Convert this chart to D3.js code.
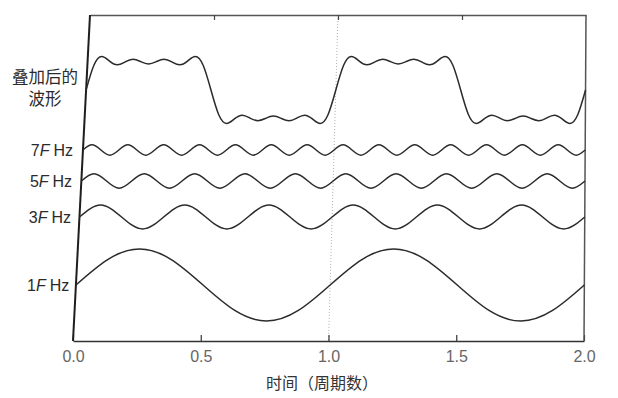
<!DOCTYPE html>
<html>
<head>
<meta charset="utf-8">
<script src="https://cdn.jsdelivr.net/npm/d3@7"></script>
<style>
  body { margin: 0; background: #fff; }
  svg { display: block; }
  .tick-label { font-family: "Liberation Sans", Arial, sans-serif; }
</style>
</head>
<body>
<figure id="chart" style="margin:0"></figure>
<script>
// values (signal units, 1F peak = 1)
const xTicks = [0, 0.5, 1, 1.5, 2];
const xTickLabels = ["0.0", "0.5", "1.0", "1.5", "2.0"];
const harmonics = ["1", "3", "5", "7"];
const xTitle = "时间（周期数）";
const sumLabel = ["叠加后的", "波形"];

// 1F, sampled every 1/8 period
const wave1F = [0, 0.707, 1, 0.707, 0, -0.707, -1, -0.707,
  0, 0.707, 1, 0.707, 0, -0.707, -1, -0.707, 0];
// 3F, sampled at peaks/zeros (every 1/12)
const wave3F = [0, 0.333, 0, -0.333, 0, 0.333, 0, -0.333, 0, 0.333, 0, -0.333,
  0, 0.333, 0, -0.333, 0, 0.333, 0, -0.333, 0, 0.333, 0, -0.333, 0];
// 5F, every 1/20
const wave5F = [0, 0.2, 0, -0.2, 0, 0.2, 0, -0.2, 0, 0.2, 0, -0.2, 0, 0.2, 0, -0.2,
  0, 0.2, 0, -0.2, 0, 0.2, 0, -0.2, 0, 0.2, 0, -0.2, 0, 0.2, 0, -0.2,
  0, 0.2, 0, -0.2, 0, 0.2, 0, -0.2, 0];
// 7F, every 1/28
const wave7F = [0, 0.143, 0, -0.143, 0, 0.143, 0, -0.143, 0, 0.143, 0, -0.143, 0, 0.143,
  0, -0.143, 0, 0.143, 0, -0.143, 0, 0.143, 0, -0.143, 0, 0.143, 0, -0.143,
  0, 0.143, 0, -0.143, 0, 0.143, 0, -0.143, 0, 0.143, 0, -0.143, 0, 0.143,
  0, -0.143, 0, 0.143, 0, -0.143, 0, 0.143, 0, -0.143, 0, 0.143, 0, -0.143, 0];
// superposed wave, every 1/32
const waveSum = [0, 0.687, 0.930, 0.803, 0.700, 0.780, 0.852, 0.787, 0.724,
  0.787, 0.852, 0.780, 0.700, 0.803, 0.930, 0.687, 0,
  -0.687, -0.930, -0.803, -0.700, -0.780, -0.852, -0.787, -0.724,
  -0.787, -0.852, -0.780, -0.700, -0.803, -0.930, -0.687, 0,
  0.687, 0.930, 0.803, 0.700, 0.780, 0.852, 0.787, 0.724,
  0.787, 0.852, 0.780, 0.700, 0.803, 0.930, 0.687, 0,
  -0.687, -0.930, -0.803, -0.700, -0.780, -0.852, -0.787, -0.724,
  -0.787, -0.852, -0.780, -0.700, -0.803, -0.930, -0.687, 0];

const width = 618, height = 398;
const frameTop = 15, frameBottom = 341;
const unit = 36;

// the scanned frame leans a little: left edge goes from 90 (top) to 73 (bottom)
const leftAt = y => 90 - 17 * (y - frameTop) / (frameBottom - frameTop);
const rightAt = y => 586 - 2 * (y - frameTop) / (frameBottom - frameTop);
const xAt = y => d3.scaleLinear().domain([0, 2]).range([leftAt(y), rightAt(y)]);

const xTop = xAt(frameTop);
const xBottom = xAt(frameBottom);

const rows = [
  { data: waveSum, center: 90 },
  { data: wave7F, center: 150, label: harmonics[3] },
  { data: wave5F, center: 181, label: harmonics[2] },
  { data: wave3F, center: 217, label: harmonics[1] },
  { data: wave1F, center: 285, label: harmonics[0] }
];

const svg = d3.select("#chart")
  .append("svg")
  .attr("width", width)
  .attr("height", height);

// dotted guide at 1.0
svg.append("line")
  .attr("x1", xTop(1)).attr("y1", frameTop)
  .attr("x2", xBottom(1)).attr("y2", frameBottom)
  .attr("stroke", "#9a9a9a")
  .attr("stroke-width", 0.8)
  .attr("stroke-dasharray", "1,2");

// top border with inward ticks
const topAxis = svg.append("g")
  .attr("transform", "translate(0," + frameTop + ")")
  .call(d3.axisTop(xTop).tickValues([0.5, 1, 1.5]).tickSizeInner(-5).tickSizeOuter(0).tickFormat(""));
topAxis.select("path").attr("stroke", "#555").attr("stroke-width", 1.5);
topAxis.selectAll("line").attr("stroke", "#444").attr("stroke-width", 1.2);

// bottom axis
const bottomAxis = svg.append("g")
  .attr("transform", "translate(0," + frameBottom + ")")
  .call(d3.axisBottom(xBottom)
    .tickValues(xTicks)
    .tickSizeInner(-6)
    .tickSizeOuter(0)
    .tickPadding(10)
    .tickFormat((d, i) => xTickLabels[i]));
bottomAxis.select("path").attr("stroke", "#333").attr("stroke-width", 1.6);
bottomAxis.selectAll("line").attr("stroke", "#333").attr("stroke-width", 1.2);
bottomAxis.selectAll("text")
  .attr("class", "tick-label")
  .attr("font-size", 16)
  .attr("fill", "#666");

// side edges
svg.append("line")
  .attr("x1", xTop(0)).attr("y1", frameTop)
  .attr("x2", xBottom(0)).attr("y2", frameBottom)
  .attr("stroke", "#1e1e1e")
  .attr("stroke-width", 2);
svg.append("line")
  .attr("x1", xTop(2)).attr("y1", frameTop)
  .attr("x2", xBottom(2)).attr("y2", frameBottom)
  .attr("stroke", "#555")
  .attr("stroke-width", 1.5);

// waves
rows.forEach(row => {
  const x = xAt(row.center);
  const y = d3.scaleLinear().domain([-1, 1]).range([row.center + unit, row.center - unit]);
  const step = 2 / (row.data.length - 1);
  const line = d3.line()
    .x((d, i) => x(i * step))
    .y(d => y(d))
    .curve(d3.curveNatural);

  svg.append("path")
    .datum(row.data)
    .attr("d", line)
    .attr("fill", "none")
    .attr("stroke", "#2b2b2b")
    .attr("stroke-width", 1.5)
    .attr("stroke-linejoin", "round");

  if (row.label) {
    const t = svg.append("text")
      .attr("x", 73 - (row.center - 150) * 0.028)
      .attr("y", row.center + 6)
      .attr("text-anchor", "end")
      .attr("font-family", "Liberation Sans, Arial, sans-serif")
      .attr("font-size", 16)
      .attr("fill", "#2b2b2b");
    t.append("tspan").text(row.label);
    t.append("tspan").attr("font-style", "italic").text("F");
    t.append("tspan").attr("dx", 4).text("Hz");
  }
});

// label of the superposed wave
svg.append("g")
  .selectAll("text")
  .data(sumLabel)
  .enter()
  .append("text")
  .attr("x", 45)
  .attr("y", (d, i) => 83 + i * 22)
  .attr("text-anchor", "middle")
  .attr("font-family", "Noto Sans CJK SC, sans-serif")
  .attr("font-size", 16.5)
  .attr("fill", "#2b2b2b")
  .text(d => d);

// x title
svg.append("text")
  .attr("x", 322)
  .attr("y", 389)
  .attr("text-anchor", "middle")
  .attr("font-family", "Noto Sans CJK SC, sans-serif")
  .attr("font-size", 16)
  .attr("fill", "#333")
  .text(xTitle);
</script>
</body>
</html>
